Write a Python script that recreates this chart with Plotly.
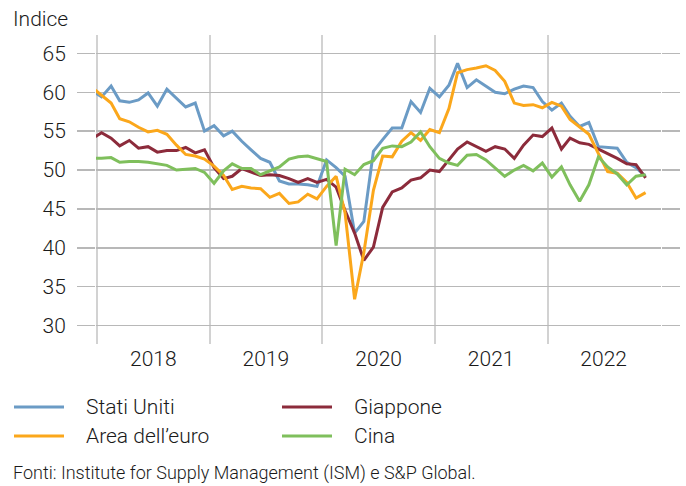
import plotly.graph_objects as go

# Months (mid-month), Dec 2017 - Nov 2022
mesi = (
    ["2017-12-15"]
    + ["2018-%02d-15" % m for m in range(1, 13)]
    + ["2019-%02d-15" % m for m in range(1, 13)]
    + ["2020-%02d-15" % m for m in range(1, 13)]
    + ["2021-%02d-15" % m for m in range(1, 13)]
    + ["2022-%02d-15" % m for m in range(1, 12)]
)

stati_uniti = [
    60.2,
    59.4, 60.8, 58.9, 58.7, 59.0, 59.9, 58.2, 60.4, 59.2, 58.1, 58.6, 55.0,
    55.7, 54.4, 55.0, 53.7, 52.6, 51.5, 51.0, 48.6, 48.2, 48.2, 48.1, 47.9,
    51.3, 50.3, 49.2, 41.9, 43.4, 52.4, 53.9, 55.4, 55.4, 58.8, 57.4, 60.5,
    59.4, 60.9, 63.7, 60.6, 61.6, 60.8, 60.0, 59.8, 60.4, 60.8, 60.6, 58.8,
    57.7, 58.6, 56.9, 55.6, 56.1, 53.0, 52.9, 52.8, 51.0, 50.3, 49.2,
]
area_euro = [
    60.6,
    59.6, 58.6, 56.6, 56.2, 55.5, 54.9, 55.1, 54.6, 53.2, 52.0, 51.8, 51.4,
    50.5, 49.3, 47.5, 47.9, 47.7, 47.6, 46.5, 47.0, 45.7, 45.9, 46.9, 46.3,
    47.9, 49.2, 44.5, 33.4, 39.4, 47.4, 51.8, 51.7, 53.7, 54.8, 53.8, 55.2,
    54.8, 57.9, 62.5, 62.9, 63.1, 63.4, 62.8, 61.4, 58.6, 58.3, 58.4, 58.0,
    58.7, 58.2, 56.5, 55.5, 54.6, 52.1, 49.8, 49.6, 48.4, 46.4, 47.1,
]
giappone = [
    54.0,
    54.8, 54.1, 53.1, 53.8, 52.8, 53.0, 52.3, 52.5, 52.5, 52.9, 52.2, 52.6,
    50.3, 48.9, 49.2, 50.2, 49.8, 49.3, 49.4, 49.3, 48.9, 48.4, 48.9, 48.4,
    48.8, 47.8, 44.8, 41.9, 38.4, 40.1, 45.2, 47.2, 47.7, 48.7, 49.0, 50.0,
    49.8, 51.4, 52.7, 53.6, 53.0, 52.4, 53.0, 52.7, 51.5, 53.2, 54.5, 54.3,
    55.4, 52.7, 54.1, 53.5, 53.3, 52.7, 52.1, 51.5, 50.8, 50.7, 49.0,
]
cina = [
    51.5,
    51.5, 51.6, 51.0, 51.1, 51.1, 51.0, 50.8, 50.6, 50.0, 50.1, 50.2, 49.7,
    48.3, 49.9, 50.8, 50.2, 50.2, 49.4, 49.9, 50.4, 51.4, 51.7, 51.8, 51.5,
    51.1, 40.3, 50.1, 49.4, 50.7, 51.2, 52.8, 53.1, 53.0, 53.6, 54.9, 53.0,
    51.5, 50.9, 50.6, 51.9, 52.0, 51.3, 50.3, 49.2, 50.0, 50.6, 49.9, 50.9,
    49.1, 50.4, 48.1, 46.0, 48.1, 51.7, 50.4, 49.5, 48.1, 49.2, 49.4,
]

anni = ["2018", "2019", "2020", "2021", "2022"]
anni_centro = ["2018-07-02", "2019-07-02", "2020-07-02", "2021-07-02", "2022-07-02"]
confini_anno = ["2018-01-01", "2019-01-01", "2020-01-01", "2021-01-01", "2022-01-01", "2023-01-01"]
y_ticks = [30, 35, 40, 45, 50, 55, 60, 65]

# (name, values, colour, legend column, legend row)
serie = [
    ("Stati Uniti", stati_uniti, "#6b9bc5", 0, 0),
    ("Giappone", giappone, "#8c2b3b", 1, 0),
    ("Area dell\u2019euro", area_euro, "#fba71b", 0, 1),
    ("Cina", cina, "#7fbf5c", 1, 1),
]

FONT = "Roboto"
TXT = "#1a1a1a"
FS = 21

# plot-area geometry (pixels) used to place legend / notes in paper units
L, R, T, B = 96, 25, 35, 142
W, H = 686, 486
PW, PH = W - L - R, H - T - B


def px_x(px):
    return (px - L) / PW


def px_y(py):
    return (H - B - py) / PH


fig = go.Figure()
for nome, vals, col, _, _ in serie:
    fig.add_trace(go.Scatter(
        x=mesi, y=vals, name=nome, mode="lines",
        line=dict(color=col, width=3), showlegend=False,
        hoverinfo="skip",
    ))

shapes = []
annotations = []
# manual two-column legend
for nome, vals, col, c, r in serie:
    x0 = 14 + 268 * c
    yy = 407 + 29 * r
    shapes.append(dict(type="line", xref="paper", yref="paper",
                       x0=px_x(x0), x1=px_x(x0 + 50), y0=px_y(yy), y1=px_y(yy),
                       line=dict(color=col, width=3)))
    annotations.append(dict(text=nome, xref="paper", yref="paper",
                            x=px_x(x0 + 70), y=px_y(yy), xanchor="left", yanchor="middle",
                            showarrow=False,
                            font=dict(family=FONT, size=FS, color=TXT, weight=300)))

annotations.append(dict(text="Indice", xref="paper", yref="paper",
                        x=px_x(11), y=px_y(19), xanchor="left", yanchor="middle",
                        showarrow=False,
                        font=dict(family=FONT, size=FS, color=TXT, weight=300)))
annotations.append(dict(text="Fonti: Institute for Supply Management (ISM) e S&P Global.",
                        xref="paper", yref="paper",
                        x=px_x(11), y=px_y(473), xanchor="left", yanchor="middle",
                        showarrow=False,
                        font=dict(family=FONT, size=18, color=TXT, weight=300)))

fig.update_layout(
    width=W, height=H,
    margin=dict(l=L, r=R, t=T, b=B, autoexpand=False),
    paper_bgcolor="white", plot_bgcolor="white",
    font=dict(family=FONT, size=FS, color=TXT, weight=300),
    showlegend=False,
    hovermode=False,
    xaxis=dict(
        type="date",
        range=["2017-12-28", "2023-01-04"],
        tickmode="array", tickvals=anni_centro, ticktext=anni,
        ticks="", showgrid=False, showline=False, zeroline=False,
        tickfont=dict(family=FONT, size=FS, color=TXT, weight=300),
        minor=dict(tickmode="array", tickvals=confini_anno, showgrid=True,
                   gridcolor="#d2d2d2", gridwidth=2, ticks=""),
    ),
    yaxis=dict(
        range=[27.65, 67.35],
        tickmode="array", tickvals=y_ticks,
        showgrid=True, gridcolor="#b8b8b8", gridwidth=1.3,
        ticks="outside", ticklen=18, tickcolor="#b8b8b8", tickwidth=1.3,
        mirror="ticks", showline=False, zeroline=False,
        ticklabelstandoff=7,
        tickfont=dict(family=FONT, size=FS, color=TXT, weight=300),
    ),
    shapes=shapes,
    annotations=annotations,
)

fig.write_html("out.html", config={"displayModeBar": False, "staticPlot": True},
               post_script="document.body.style.margin='0';")
